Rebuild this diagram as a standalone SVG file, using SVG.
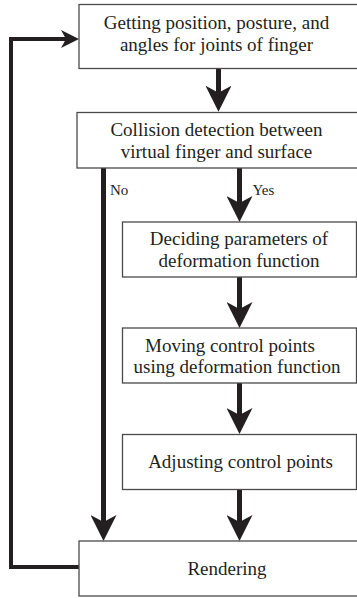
<svg xmlns="http://www.w3.org/2000/svg" width="357" height="598" viewBox="0 0 357 598">
<style>
.box{fill:#fff;stroke:#4a4a4a;stroke-width:1.3}
.t{font-family:"Liberation Serif","Times New Roman",serif;font-size:19px;fill:#231f20;text-anchor:middle}
.lbl{font-family:"Liberation Serif","Times New Roman",serif;font-size:15px;fill:#231f20}
.c{fill:none;stroke:#231f20;stroke-width:5}
.loop{fill:none;stroke:#231f20;stroke-width:4}
</style>
<defs>
<marker id="big" viewBox="0 0 26 26" markerWidth="26" markerHeight="26" refX="16" refY="13" orient="auto" markerUnits="userSpaceOnUse">
<path d="M0,0 L26,13 L0,26 L7,13 Z" fill="#231f20"/>
</marker>
<marker id="small" viewBox="0 0 18 18" markerWidth="18" markerHeight="18" refX="11" refY="9" orient="auto" markerUnits="userSpaceOnUse">
<path d="M0,0 L18,9 L0,18 L5,9 Z" fill="#231f20"/>
</marker>
</defs>
<g id="connectors">
<path class="c" d="M218.5,69 V101.7" marker-end="url(#big)"/>
<path class="c" d="M239.5,168 V212" marker-end="url(#big)"/>
<path class="c" d="M103.5,168 V531" marker-end="url(#big)"/>
<path class="c" d="M239.5,277 V318" marker-end="url(#big)"/>
<path class="c" d="M239.5,383 V424" marker-end="url(#big)"/>
<path class="c" d="M239.5,489 V531" marker-end="url(#big)"/>
<path class="loop" d="M79,567 H11 V39 H72" marker-end="url(#small)"/>
<text class="lbl" x="110" y="195">No</text>
<text class="lbl" x="252.5" y="194.5">Yes</text>
</g>
<g id="n1">
<rect class="box" x="79" y="4.5" width="290" height="64"/>
<text class="t" x="216.5" y="29">Getting position, posture, and</text>
<text class="t" x="216.5" y="51">angles for joints of finger</text>
</g>
<g id="n2">
<rect class="box" x="77" y="112.5" width="292" height="55.5"/>
<text class="t" x="216.5" y="135.5">Collision detection between</text>
<text class="t" x="216.5" y="157.5">virtual  finger and surface</text>
</g>
<g id="n3">
<rect class="box" x="122.5" y="222" width="234" height="55"/>
<text class="t" x="239" y="245">Deciding parameters of</text>
<text class="t" x="239" y="266.5">deformation function</text>
</g>
<g id="n4">
<rect class="box" x="122.5" y="328" width="234" height="55"/>
<text class="t" x="230" y="351.5">Moving control points</text>
<text class="t" x="237" y="372.5">using deformation function</text>
</g>
<g id="n5">
<rect class="box" x="122.5" y="434.5" width="234" height="55"/>
<text class="t" x="240.5" y="468">Adjusting control points</text>
</g>
<g id="n6">
<rect class="box" x="79" y="541" width="290" height="55"/>
<text class="t" x="227" y="575">Rendering</text>
</g>
</svg>
